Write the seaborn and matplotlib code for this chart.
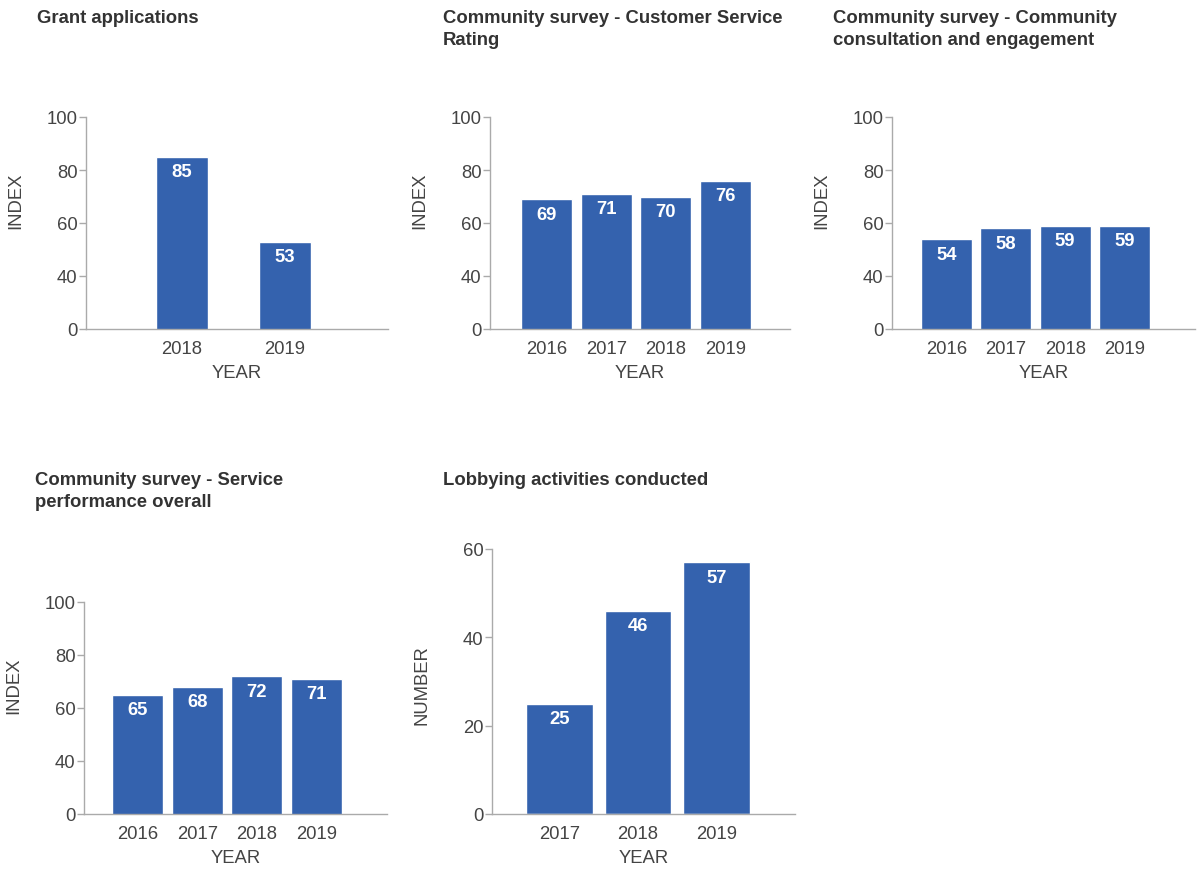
#!/usr/bin/env python
#
# Council performance indicators - small multiple bar charts

import pandas as pd
import matplotlib
matplotlib.use("Agg")
import matplotlib.pyplot as plt
import seaborn as sns
from matplotlib.transforms import ScaledTranslation

# data
grant_years = ["2018", "2019"]
grant_values = [85, 53]

rating_years = ["2016", "2017", "2018", "2019"]
rating_values = [69, 71, 70, 76]

consultation_years = ["2016", "2017", "2018", "2019"]
consultation_values = [54, 58, 59, 59]

performance_years = ["2016", "2017", "2018", "2019"]
performance_values = [65, 68, 72, 71]

lobbying_years = ["2017", "2018", "2019"]
lobbying_values = [25, 46, 57]

# the index axes start at 20 but the bottom tick reads "0"
index_ticks = [20, 40, 60, 80, 100]
index_tick_labels = ["0", "40", "60", "80", "100"]
number_ticks = [0, 20, 40, 60]
number_tick_labels = ["0", "20", "40", "60"]

W, H = 1198, 870
BLUE = "#3462ae"
GREY_TXT = "#444444"
GREY_LINE = "#aaaaaa"
FS = 13.3

sns.set_style("white")
plt.rcParams["font.family"] = ["Liberation Sans", "DejaVu Sans"]


def px_axes(fig, left, top, right, bottom):
    return fig.add_axes([left / W, 1 - bottom / H, (right - left) / W, (bottom - top) / H])


def draw_panel(ax, years, values, width, xlim, ticks, tick_labels, ylabel, ylabel_y):
    df = pd.DataFrame({"YEAR": years, "value": values})
    sns.barplot(data=df, x="YEAR", y="value", color=BLUE, saturation=1,
                width=width, errorbar=None, ax=ax)
    ax.bar_label(ax.containers[0], labels=[str(v) for v in values], padding=-17,
                 color="white", fontweight="bold", fontsize=FS)
    ax.set_xlim(xlim)
    ax.set_ylim(ticks[0], ticks[-1])
    ax.set_yticks(ticks)
    ax.set_yticklabels(tick_labels)
    # little stub of the y axis below the x axis
    ax.set_xticks([xlim[0]], minor=True)
    ax.tick_params(axis="x", which="minor", length=5, width=1, color=GREY_LINE,
                   direction="out")
    ax.tick_params(axis="x", which="major", length=0, pad=8, labelsize=FS,
                   labelcolor=GREY_TXT)
    ax.tick_params(axis="y", length=5, width=1, color=GREY_LINE, pad=1,
                   labelsize=FS, labelcolor=GREY_TXT, left=True)
    sns.despine(ax=ax)
    for side in ["left", "bottom"]:
        ax.spines[side].set_color(GREY_LINE)
        ax.spines[side].set_linewidth(1)
    ax.set_xlabel("YEAR", fontsize=FS, color=GREY_TXT)
    ax.xaxis.set_label_coords(0.5, 0, transform=ax.transAxes +
                              ScaledTranslation(0, -35 / 100, fig.dpi_scale_trans))
    ax.set_ylabel(ylabel, fontsize=FS, color=GREY_TXT)
    ax.yaxis.set_label_coords(0, ylabel_y, transform=ax.transAxes +
                              ScaledTranslation(-62 / 100, 0, fig.dpi_scale_trans))


def title(fig, x, top, text):
    fig.text(x / W, 1 - top / H, text, ha="left", va="top", fontsize=FS,
             fontweight="bold", color="#333333", linespacing=1.4)


fig = plt.figure(figsize=(W / 100, H / 100), dpi=100)

ax1 = px_axes(fig, 86, 118, 388, 330)
draw_panel(ax1, grant_years, grant_values, 0.5, (-0.93, 2.0),
           index_ticks, index_tick_labels, "INDEX", 0.61)

ax2 = px_axes(fig, 490, 118, 790, 330)
draw_panel(ax2, rating_years, rating_values, 0.855, (-0.947, 4.08),
           index_ticks, index_tick_labels, "INDEX", 0.61)

ax3 = px_axes(fig, 892, 118, 1195, 330)
draw_panel(ax3, consultation_years, consultation_values, 0.86, (-0.92, 4.19),
           index_ticks, index_tick_labels, "INDEX", 0.61)

ax4 = px_axes(fig, 84, 603, 387, 815)
draw_panel(ax4, performance_years, performance_values, 0.855, (-0.9, 4.18),
           index_ticks, index_tick_labels, "INDEX", 0.61)

ax5 = px_axes(fig, 492, 550, 795, 815)
draw_panel(ax5, lobbying_years, lobbying_values, 0.85, (-0.86, 3.0),
           number_ticks, number_tick_labels, "NUMBER", 0.49)

title(fig, 37, 10, "Grant applications")
title(fig, 443, 10, "Community survey - Customer Service\nRating")
title(fig, 833, 10, "Community survey - Community\nconsultation and engagement")
title(fig, 35, 472, "Community survey - Service\nperformance overall")
title(fig, 443, 472, "Lobbying activities conducted")

fig.savefig("out.png", dpi=100)
